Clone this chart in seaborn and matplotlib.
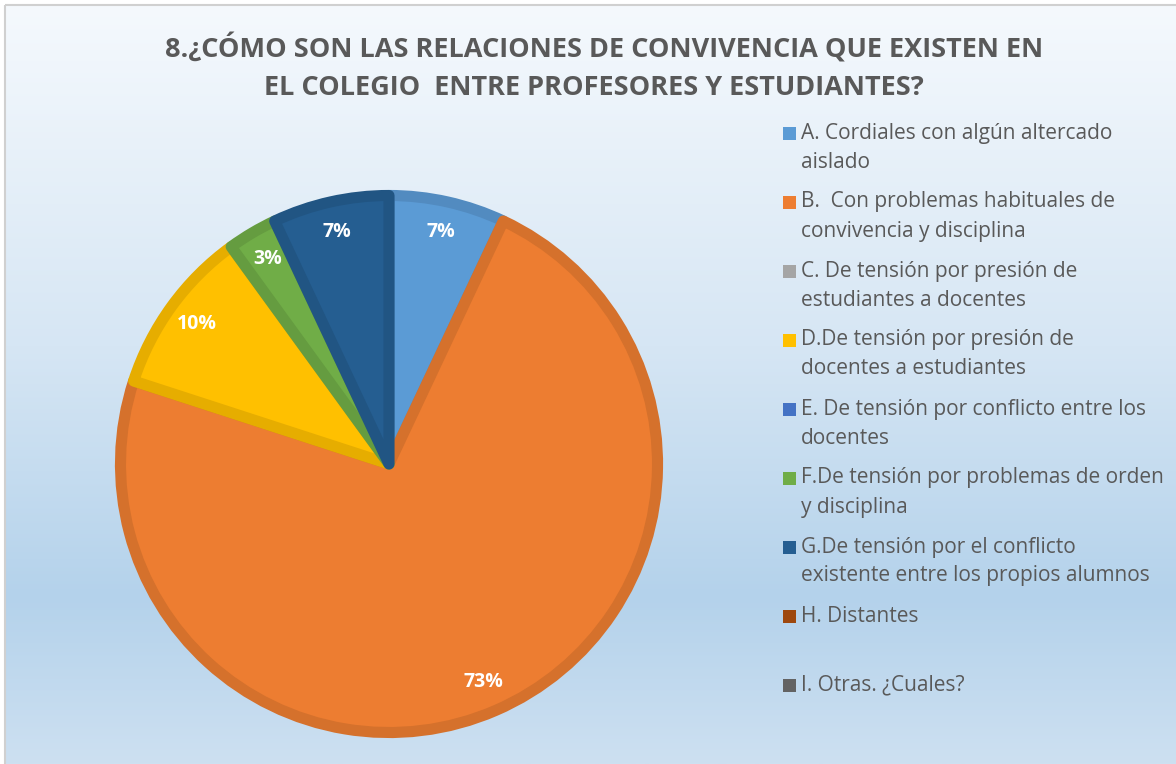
import numpy as np
import matplotlib.pyplot as plt
import matplotlib.colors as mcolors
from matplotlib.patches import Rectangle
import seaborn as sns

# datos de la pregunta 8
categorias = ["A. Cordiales con algún altercado\naislado",
              "B.  Con problemas habituales de\nconvivencia y disciplina",
              "C. De tensión por presión de\nestudiantes a docentes",
              "D.De tensión por presión de\ndocentes a estudiantes",
              "E. De tensión por conflicto entre los\ndocentes",
              "F.De tensión por problemas de orden\ny disciplina",
              "G.De tensión por el conflicto\nexistente entre los propios alumnos",
              "H. Distantes",
              "I. Otras. ¿Cuales?"]
porcentajes = [7, 73, 0, 10, 0, 3, 7, 0, 0]
colores = ["#5B9BD5", "#ED7D31", "#A5A5A5", "#FFC000", "#4472C4",
           "#70AD47", "#255E91", "#9E480E", "#636363"]
titulo = ["8.¿CÓMO SON LAS RELACIONES DE CONVIVENCIA QUE EXISTEN EN",
          "EL COLEGIO  ENTRE PROFESORES Y ESTUDIANTES?"]

sns.set_style("white")
plt.rcParams['font.family'] = ['Open Sans', 'DejaVu Sans']

W, H = 1176, 764
fig = plt.figure(figsize=(W / 100, H / 100), dpi=100)
fig.patch.set_facecolor("white")

# fondo degradado (coordenadas en pixeles)
bg = fig.add_axes([0, 0, 1, 1])
bg.set_xlim(0, W)
bg.set_ylim(H, 0)
bg.axis("off")
cmap = mcolors.LinearSegmentedColormap.from_list(
    "fondo", [(0, "#f5f9fd"), (0.45, "#d6e6f4"), (0.78, "#b4d2eb"), (1, "#cde0f1")])
grad = np.linspace(0, 1, 256).reshape(-1, 1)
bg.imshow(grad, cmap=cmap, aspect="auto", extent=[5, W, H, 5], zorder=0)
bg.add_patch(Rectangle((5, 5), W, H, fill=False, edgecolor="#d0d0d0", lw=1.5, zorder=1))

# titulo
gris = "#595959"
bg.text(604, 48, titulo[0], ha="center", va="center", fontsize=19.5, fontweight="bold", color=gris)
bg.text(594, 88, titulo[1], ha="center", va="center", fontsize=19.5, fontweight="bold", color=gris)

# pastel
paleta = sns.color_palette(colores)
vals = [v for v in porcentajes if v > 0]
cols = [paleta[i] for i, v in enumerate(porcentajes) if v > 0]
cx, cy, r = 389, 464, 274
ax = fig.add_axes([(cx - r) / W, (H - cy - r) / H, 2 * r / W, 2 * r / H])
wedges, textos, autotextos = ax.pie(
    vals, colors=cols, startangle=90, counterclock=False, radius=0.98,
    autopct=lambda p: f"{p:.0f}%", pctdistance=0.885,
    textprops=dict(color="white", fontsize=14, fontweight="bold"),
    wedgeprops=dict(linewidth=8))
for w, c in zip(wedges, cols):
    w.set_edgecolor(tuple(x * 0.9 for x in c))
    w.set_joinstyle("round")
    w.set_clip_on(False)
ax.set_xlim(-1, 1)
ax.set_ylim(-1, 1)
ax.axis("off")

# leyenda
for i, (cat, col) in enumerate(zip(categorias, paleta)):
    yc = 133 + 69 * i
    bg.add_patch(Rectangle((783, yc - 6.5), 13, 13, facecolor=col, edgecolor="none", zorder=2))
    for j, linea in enumerate(cat.split("\n")):
        bg.text(801, yc + 29 * j, linea, ha="left", va="center", fontsize=15, color=gris)

plt.savefig("out.png", dpi=100)
